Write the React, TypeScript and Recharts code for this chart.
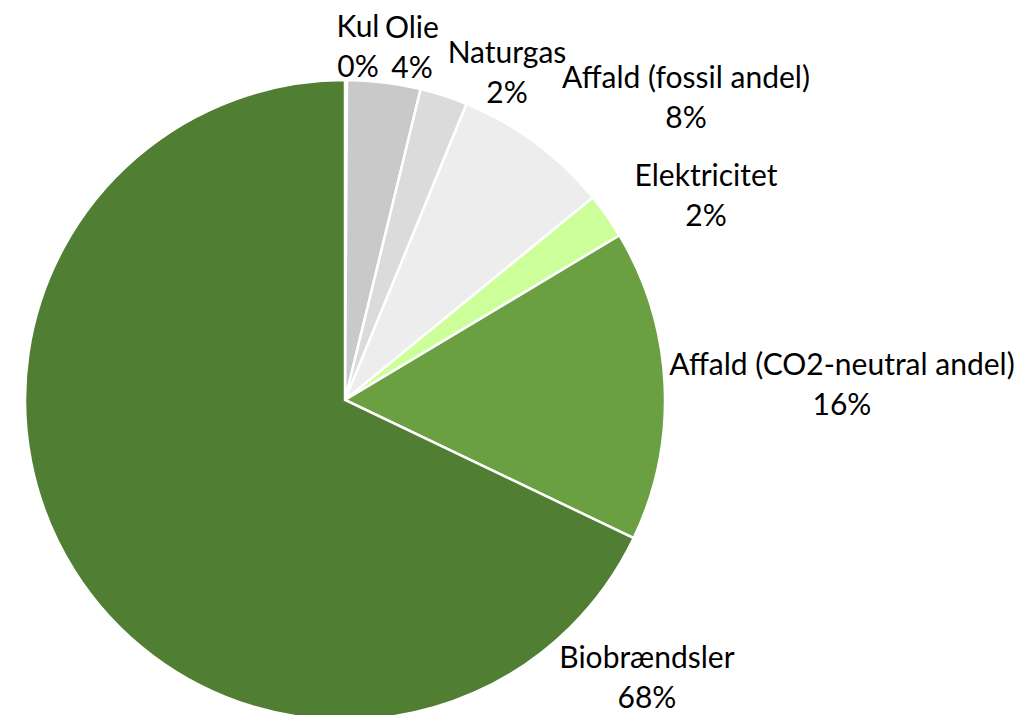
import { PieChart, Pie, Cell } from "recharts";

// Fuel mix shares (%), clockwise from 12 o'clock
const NAMES = [
  "Kul",
  "Olie",
  "Naturgas",
  "Affald (fossil andel)",
  "Elektricitet",
  "Affald (CO2-neutral andel)",
  "Biobrændsler",
];
const VALUES = [0.1, 3.7, 2.4, 7.9, 2.3, 15.7, 67.9];
const COLORS = ["#a6a6a6", "#c9c9c9", "#dbdbdb", "#ededed", "#ccff99", "#6aa042", "#507e32"];

// label anchor (text centre x, first-line baseline) relative to the pie centre
const LABEL_OFFSETS: [number, number][] = [
  [13, -363],
  [67, -362],
  [162, -337],
  [341, -312],
  [361, -214],
  [497, -25],
  [302, 268],
];

const CX = 337;
const CY = 392;
const FONT = "Lato, 'Open Sans', sans-serif";

const data = NAMES.map((name, i) => ({ name, value: VALUES[i] }));

function renderLabel(props: any) {
  const { index, percent } = props;
  const [dx, dy] = LABEL_OFFSETS[index];
  const x = CX + dx;
  const y = CY + dy;
  return (
    <text
      x={x}
      y={y}
      textAnchor="middle"
      fill="#000"
      fontFamily={FONT}
      fontSize={30}
    >
      <tspan x={x} y={y}>{NAMES[index]}</tspan>
      <tspan x={x} y={y + 40}>{`${Math.round(percent * 100)}%`}</tspan>
    </text>
  );
}

export default function App() {
  return (
    <div style={{ width: 1006, height: 707, background: "#fff" }}>
      <PieChart width={1006} height={707} margin={{ top: 0, right: 0, bottom: 0, left: 0 }}>
        <Pie
          data={data}
          dataKey="value"
          nameKey="name"
          cx={CX}
          cy={CY}
          outerRadius={320}
          startAngle={90}
          endAngle={-270}
          stroke="#fff"
          strokeWidth={2.5}
          label={renderLabel}
          labelLine={false}
          isAnimationActive={false}
        >
          {data.map((d, i) => (
            <Cell key={d.name} fill={COLORS[i]} />
          ))}
        </Pie>
      </PieChart>
    </div>
  );
}
